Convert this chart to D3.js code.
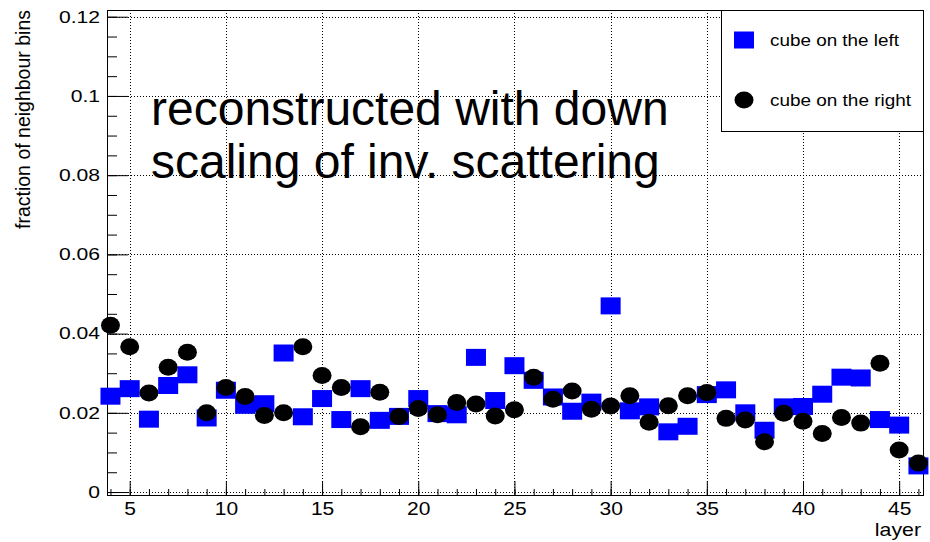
<!DOCTYPE html>
<html><head><meta charset="utf-8">
<script src="https://cdn.jsdelivr.net/npm/d3@7"></script>
<style>
html,body{margin:0;padding:0;background:#fff;}
svg{display:block;font-family:"Liberation Sans",Arial,sans-serif;}
</style></head>
<body>
<svg id="chart" width="930" height="542"></svg>
<script>
const layers = [4,5,6,7,8,9,10,11,12,13,14,15,16,17,18,19,20,21,22,23,24,25,26,27,28,29,30,31,32,33,34,35,36,37,38,39,40,41,42,43,44,45,46];
const cubeLeft = [0.0242,0.0261,0.0184,0.0269,0.0296,0.0187,0.0257,0.0219,0.0223,0.0351,0.0190,0.0236,0.0183,0.0261,0.0181,0.0191,0.0236,0.0198,0.0195,0.0340,0.0231,0.0319,0.0282,0.0240,0.0204,0.0227,0.0470,0.0205,0.0215,0.0152,0.0166,0.0246,0.0258,0.0200,0.0156,0.0215,0.0216,0.0247,0.0290,0.0288,0.0183,0.0169,0.0066];
const cubeRight = [0.0421,0.0367,0.0250,0.0315,0.0353,0.0200,0.0264,0.0241,0.0193,0.0200,0.0367,0.0294,0.0264,0.0165,0.0252,0.0191,0.0211,0.0195,0.0226,0.0222,0.0192,0.0208,0.0290,0.0234,0.0255,0.0209,0.0217,0.0243,0.0176,0.0218,0.0243,0.0251,0.0186,0.0182,0.0127,0.0199,0.0179,0.0148,0.0188,0.0174,0.0325,0.0106,0.0073];
const xMajorTicks = [5,10,15,20,25,30,35,40,45];
const yMajorTicks = [0,0.02,0.04,0.06,0.08,0.1,0.12];
const yTickLabels = ["0","0.02","0.04","0.06","0.08","0.1","0.12"];
const yMinorTicks = [0,0.005,0.01,0.015,0.02,0.025,0.03,0.035,0.04,0.045,0.05,0.055,0.06,0.065,0.07,0.075,0.08,0.085,0.09,0.095,0.1,0.105,0.11,0.115,0.12];
const seriesNames = ["cube on the left","cube on the right"];
const annotation = ["reconstructed with down","scaling of inv. scattering"];
const xTitle = "layer";
const yTitle = "fraction of neighbour bins";

const L=107, R=924, T=10, B=496;
const svg = d3.select("#chart");
const x = d3.scaleLinear().domain([3.82,46.29]).range([L,R]);
const y = d3.scaleLinear().domain([-0.001,0.1217]).range([B,T]);

function stretch(sel, f){
  sel.each(function(){
    const w = this.getComputedTextLength();
    if (w > 0) d3.select(this).attr("textLength", w*f).attr("lengthAdjust","spacingAndGlyphs");
  });
}

// grid
const grid = svg.append("g").attr("stroke","#000").attr("stroke-width",1).attr("stroke-dasharray","1,2");
grid.selectAll("line.gx").data(xMajorTicks).join("line")
  .attr("x1",d=>Math.round(x(d))+0.5).attr("x2",d=>Math.round(x(d))+0.5).attr("y1",T).attr("y2",B);
grid.selectAll("line.gy").data(yMajorTicks).join("line")
  .attr("y1",d=>Math.round(y(d))+0.5).attr("y2",d=>Math.round(y(d))+0.5).attr("x1",L).attr("x2",R);

// axes
const xMajor = d3.axisBottom(x).tickValues(xMajorTicks).tickSizeInner(-15).tickSizeOuter(0).tickPadding(7);
const xMinor = d3.axisBottom(x).tickValues(layers).tickSizeInner(-7).tickSizeOuter(0).tickFormat("");
const gx1 = svg.append("g").attr("transform",`translate(0,${B})`).call(xMinor);
const gx2 = svg.append("g").attr("transform",`translate(0,${B})`).call(xMajor);
const yMajor = d3.axisLeft(y).tickValues(yMajorTicks).tickSizeInner(-21).tickSizeOuter(0).tickPadding(7)
  .tickFormat((d,i)=>yTickLabels[i]);
const yMinor = d3.axisLeft(y).tickValues(yMinorTicks).tickSizeInner(-10).tickSizeOuter(0).tickFormat("");
const gy1 = svg.append("g").attr("transform",`translate(${L},0)`).call(yMinor);
const gy2 = svg.append("g").attr("transform",`translate(${L},0)`).call(yMajor);
[gx1,gx2,gy1,gy2].forEach(g=>{
  g.select(".domain").remove();
  g.selectAll("line").attr("stroke","#000").attr("stroke-width",1);
  g.selectAll("text").attr("fill","#000").attr("font-family","Liberation Sans, Arial, sans-serif");
});
gx2.selectAll("text").attr("font-size",17.5);
stretch(gx2.selectAll("text"),1.2);
gy2.selectAll("text").attr("font-size",16.5);
stretch(gy2.selectAll("text"),1.28);

// frame
svg.append("rect").attr("x",L+0.5).attr("y",T+0.5).attr("width",R-L-1).attr("height",B-T-1)
  .attr("fill","none").attr("stroke","#000").attr("stroke-width",1);

// data
svg.append("g").selectAll("rect").data(layers).join("rect")
  .attr("x",(d,i)=>x(d)-10).attr("y",(d,i)=>y(cubeLeft[i])-8.5)
  .attr("width",20).attr("height",17).attr("fill","#0000ff");
svg.append("g").selectAll("ellipse").data(layers).join("ellipse")
  .attr("cx",d=>x(d)).attr("cy",(d,i)=>y(cubeRight[i]))
  .attr("rx",9.5).attr("ry",8.5).attr("fill","#000");

// annotation
const ann = svg.append("text").attr("x",151).attr("font-size",48).attr("fill","#000");
ann.append("tspan").attr("x",151).attr("y",125).text(annotation[0]);
ann.append("tspan").attr("x",151).attr("y",178).text(annotation[1]);

// titles
const xt = svg.append("text").attr("x",921).attr("y",536).attr("text-anchor","end").attr("font-size",18.5).text(xTitle);
stretch(xt,1.15);
svg.append("text").attr("transform","translate(30,10) rotate(-90)").attr("text-anchor","end")
  .attr("font-size",19.5).text(yTitle);

// legend
const lg = svg.append("g");
lg.append("rect").attr("x",721.5).attr("y",10.5).attr("width",202).attr("height",121)
  .attr("fill","#fff").attr("stroke","#000").attr("stroke-width",1);
lg.append("rect").attr("x",734).attr("y",31.5).attr("width",20).attr("height",17).attr("fill","#0000ff");
lg.append("ellipse").attr("cx",744).attr("cy",100).attr("rx",9.5).attr("ry",8.5).attr("fill","#000");
lg.append("text").attr("x",770).attr("y",46).attr("font-size",16.5).attr("textLength",129).attr("lengthAdjust","spacingAndGlyphs").text(seriesNames[0]);
lg.append("text").attr("x",770).attr("y",106).attr("font-size",16.5).attr("textLength",141).attr("lengthAdjust","spacingAndGlyphs").text(seriesNames[1]);
</script>
</body></html>
